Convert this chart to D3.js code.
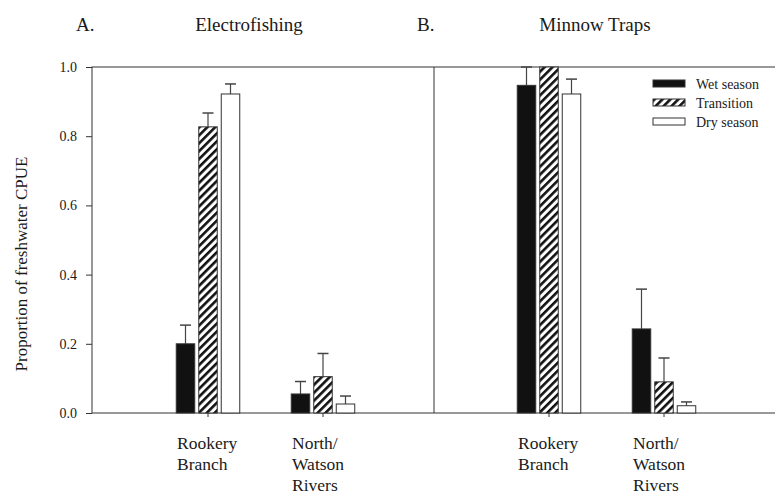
<!DOCTYPE html>
<html>
<head>
<meta charset="utf-8">
<script src="https://cdn.jsdelivr.net/npm/d3@7"></script>
<style>
  body { margin: 0; background: #fff; }
  svg text { font-family: "Liberation Serif", "Times New Roman", serif; fill: #1a1a1a; }
</style>
</head>
<body>
<script>
// data
var categories = ["Rookery Branch", "North/Watson Rivers"];
var categoryLines = [["Rookery", "Branch"], ["North/", "Watson", "Rivers"]];
var seasons = ["Wet season", "Transition", "Dry season"];
var yTicks = [0, 0.2, 0.4, 0.6, 0.8, 1.0];

// A. Electrofishing (mean, upper SE)
var efWet = [0.200, 0.055];
var efWetSE = [0.054, 0.036];
var efTransition = [0.827, 0.105];
var efTransitionSE = [0.040, 0.067];
var efDry = [0.922, 0.026];
var efDrySE = [0.029, 0.023];

// B. Minnow traps
var mtWet = [0.947, 0.243];
var mtWetSE = [0.053, 0.115];
var mtTransition = [1.000, 0.090];
var mtTransitionSE = [0.000, 0.069];
var mtDry = [0.922, 0.021];
var mtDrySE = [0.043, 0.011];

var width = 775, height = 494;
var plotTop = 67, plotBottom = 413;
var plotLeft = 92, plotMid = 434, plotRight = 776;

var svg = d3.select("body").append("svg").attr("width", width).attr("height", height);

var defs = svg.append("defs");
var pat = defs.append("pattern")
    .attr("id", "hatch")
    .attr("patternUnits", "userSpaceOnUse")
    .attr("width", 5.6).attr("height", 5.6)
    .attr("patternTransform", "rotate(45)");
pat.append("rect").attr("width", 5.6).attr("height", 5.6).attr("fill", "#fff");
pat.append("rect").attr("x", 0).attr("width", 2.6).attr("height", 5.6).attr("fill", "#111");

var fills = ["#111", "url(#hatch)", "#fff"];

var y = d3.scaleLinear().domain([0, 1]).range([plotBottom, plotTop]);
var inner = d3.scaleBand().domain(seasons).range([-31.75, 31.75]).paddingInner(0.178);

// y axis
var yAxis = svg.append("g").attr("transform", "translate(" + plotLeft + ",0)")
    .call(d3.axisLeft(y).tickValues(yTicks).tickFormat(d3.format(".1f")).tickSize(6).tickPadding(9));
yAxis.attr("font-family", null);
yAxis.select(".domain").remove();
yAxis.selectAll("line").attr("stroke", "#333");
yAxis.selectAll("text").style("font-size", "14px").style("font-family", "'Liberation Serif', serif").attr("fill", "#1a1a1a");

svg.append("text")
    .attr("transform", "translate(27,264) rotate(-90)")
    .attr("text-anchor", "middle")
    .style("font-size", "17px")
    .text("Proportion of freshwater CPUE");

// frame
svg.append("rect").attr("x", plotLeft).attr("y", plotTop).attr("width", plotRight - plotLeft).attr("height", plotBottom - plotTop)
    .attr("fill", "none").attr("stroke", "#333").attr("stroke-width", 1);
svg.append("line").attr("x1", plotMid).attr("x2", plotMid).attr("y1", plotTop).attr("y2", plotBottom)
    .attr("stroke", "#333");

var panels = [
    { letter: "A.", title: "Electrofishing", letterX: 76, titleX: 249,
      x: d3.scaleLinear().domain([0, 3]).range([93, 438]),
      mean: [efWet, efTransition, efDry], se: [efWetSE, efTransitionSE, efDrySE] },
    { letter: "B.", title: "Minnow Traps", letterX: 417, titleX: 595,
      x: d3.scaleLinear().domain([0, 3]).range([434, 779]),
      mean: [mtWet, mtTransition, mtDry], se: [mtWetSE, mtTransitionSE, mtDrySE] }
];

panels.forEach(function (p) {
    svg.append("text").attr("x", p.letterX).attr("y", 31).style("font-size", "19px").text(p.letter);
    svg.append("text").attr("x", p.titleX).attr("y", 31).attr("text-anchor", "middle")
        .style("font-size", "19px").text(p.title);

    var g = svg.append("g");
    categories.forEach(function (c, ci) {
        var cx = p.x(ci + 1);
        // tick under group
        g.append("line").attr("x1", cx).attr("x2", cx).attr("y1", plotBottom).attr("y2", plotBottom + 4)
            .attr("stroke", "#333");
        seasons.forEach(function (s, si) {
            var m = p.mean[si][ci], e = p.se[si][ci];
            var bx = cx + inner(s);
            var bw = inner.bandwidth();
            // error bar (upper only)
            if (e > 0) {
                var ex = bx + bw / 2;
                g.append("line").attr("x1", ex).attr("x2", ex).attr("y1", y(m)).attr("y2", y(m + e))
                    .attr("stroke", "#444").attr("stroke-width", 1.2);
                g.append("line").attr("x1", ex - 5.5).attr("x2", ex + 5.5).attr("y1", y(m + e)).attr("y2", y(m + e))
                    .attr("stroke", "#444").attr("stroke-width", 1.5);
            }
            g.append("rect").attr("x", bx).attr("y", y(m)).attr("width", bw).attr("height", y(0) - y(m))
                .attr("fill", fills[si]).attr("stroke", "#333").attr("stroke-width", 1);
        });
        var t = g.append("text").attr("x", cx - 31).attr("y", 449).style("font-size", "17.5px");
        categoryLines[ci].forEach(function (ln, li) {
            t.append("tspan").attr("x", cx - 31).attr("y", 449 + li * 21).text(ln);
        });
    });
});

// legend
var legend = svg.append("g").attr("transform", "translate(653,80)");
seasons.forEach(function (s, i) {
    var row = legend.append("g").attr("transform", "translate(0," + (i * 19) + ")");
    row.append("rect").attr("x", 0).attr("y", 0).attr("width", 32).attr("height", 7)
        .attr("fill", fills[i]).attr("stroke", "#333").attr("stroke-width", 1);
    row.append("text").attr("x", 43).attr("y", 9).style("font-size", "14px").text(s);
});
</script>
</body>
</html>
